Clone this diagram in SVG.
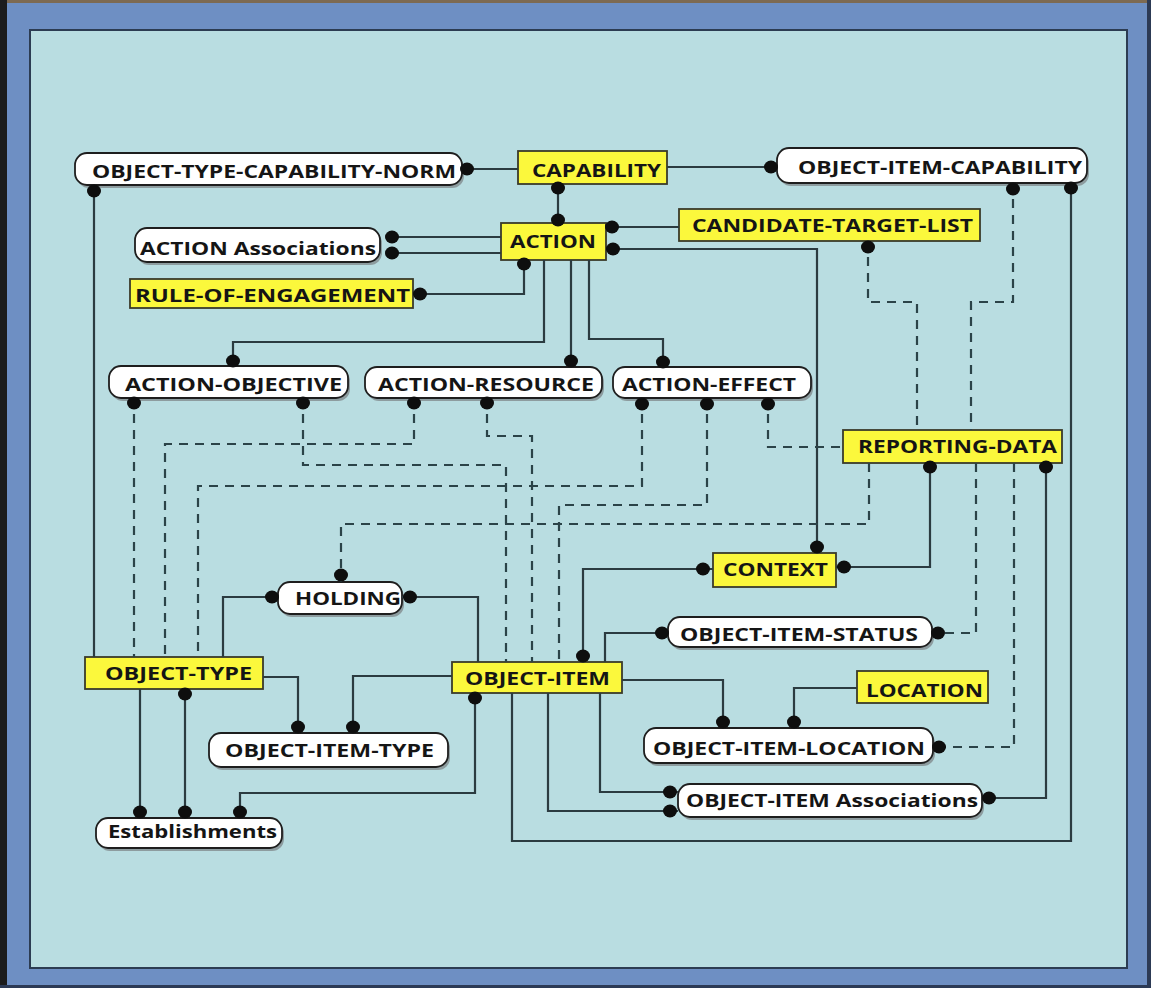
<svg xmlns="http://www.w3.org/2000/svg" width="1151" height="988" viewBox="0 0 1151 988">
<style>
.pill{fill:#ffffff;stroke:#1e1e1e;stroke-width:1.8}
.sh{fill:#8d9c9f}
.ybox{fill:#fbf83c;stroke:#3a3a2a;stroke-width:1.8}
.t{font-family:"Open Sans","Liberation Sans",sans-serif;font-weight:700;font-size:17px;fill:#151515}
.ln{fill:none;stroke:#2b3b40;stroke-width:2.2}
.ds{fill:none;stroke:#2b4348;stroke-width:2.2;stroke-dasharray:9 7}
.dot{fill:#0e0e0e}
</style>
<rect x="0" y="0" width="1151" height="988" fill="#6e8fc3"/>
<rect x="0" y="0" width="1151" height="3" fill="#7d6a52"/>
<rect x="0" y="0" width="7" height="988" fill="#1c1c1c"/>
<rect x="1147" y="0" width="4" height="988" fill="#2c3a55"/>
<rect x="0" y="985" width="1151" height="3" fill="#2c3a55"/>
<rect x="30" y="30" width="1097" height="938" fill="#b9dde1" stroke="#2c3c52" stroke-width="2"/>

<g id="n-otcn"><rect class="sh" x="77" y="156" width="387" height="32" rx="12"/><rect class="pill" x="75" y="153" width="387" height="32" rx="12"/><text class="t" x="92" y="178" textLength="364" lengthAdjust="spacingAndGlyphs">OBJECT-TYPE-CAPABILITY-NORM</text></g>
<g id="n-capability"><rect class="ybox" x="518" y="151" width="149" height="33"/><text class="t" x="532" y="177" textLength="129" lengthAdjust="spacingAndGlyphs">CAPABILITY</text></g>
<g id="n-oic"><rect class="sh" x="779" y="151" width="310" height="35" rx="12"/><rect class="pill" x="777" y="148" width="310" height="35" rx="12"/><text class="t" x="798" y="174" textLength="284" lengthAdjust="spacingAndGlyphs">OBJECT-ITEM-CAPABILITY</text></g>
<g id="n-action"><rect class="ybox" x="501" y="223" width="105" height="37"/><text class="t" x="510" y="248" textLength="86" lengthAdjust="spacingAndGlyphs">ACTION</text></g>
<g id="n-ctl"><rect class="ybox" x="679" y="209" width="301" height="32"/><text class="t" x="692" y="232" textLength="281" lengthAdjust="spacingAndGlyphs">CANDIDATE-TARGET-LIST</text></g>
<g id="n-action-assoc"><rect class="sh" x="137" y="231" width="245" height="34" rx="12"/><rect class="pill" x="135" y="228" width="245" height="34" rx="12"/><text class="t" x="140" y="255" textLength="236" lengthAdjust="spacingAndGlyphs">ACTION Associations</text></g>
<g id="n-roe"><rect class="ybox" x="130" y="279" width="283" height="29"/><text class="t" x="135" y="302" textLength="275" lengthAdjust="spacingAndGlyphs">RULE-OF-ENGAGEMENT</text></g>
<g id="n-aobj"><rect class="sh" x="111" y="369" width="239" height="32" rx="12"/><rect class="pill" x="109" y="366" width="239" height="32" rx="12"/><text class="t" x="125" y="391" textLength="217" lengthAdjust="spacingAndGlyphs">ACTION-OBJECTIVE</text></g>
<g id="n-ares"><rect class="sh" x="367" y="370" width="237" height="31" rx="12"/><rect class="pill" x="365" y="367" width="237" height="31" rx="12"/><text class="t" x="378" y="391" textLength="216" lengthAdjust="spacingAndGlyphs">ACTION-RESOURCE</text></g>
<g id="n-aeff"><rect class="sh" x="615" y="370" width="198" height="31" rx="12"/><rect class="pill" x="613" y="367" width="198" height="31" rx="12"/><text class="t" x="622" y="391" textLength="174" lengthAdjust="spacingAndGlyphs">ACTION-EFFECT</text></g>
<g id="n-rd"><rect class="ybox" x="843" y="430" width="219" height="33"/><text class="t" x="858" y="453" textLength="199" lengthAdjust="spacingAndGlyphs">REPORTING-DATA</text></g>
<g id="n-context"><rect class="ybox" x="713" y="553" width="123" height="34"/><text class="t" x="723" y="576" textLength="105" lengthAdjust="spacingAndGlyphs">CONTEXT</text></g>
<g id="n-holding"><rect class="sh" x="280" y="585" width="124" height="32" rx="12"/><rect class="pill" x="278" y="582" width="124" height="32" rx="12"/><text class="t" x="295" y="605" textLength="106" lengthAdjust="spacingAndGlyphs">HOLDING</text></g>
<g id="n-ois"><rect class="sh" x="670" y="620" width="264" height="30" rx="12"/><rect class="pill" x="668" y="617" width="264" height="30" rx="12"/><text class="t" x="680" y="641" textLength="238" lengthAdjust="spacingAndGlyphs">OBJECT-ITEM-STATUS</text></g>
<g id="n-otype"><rect class="ybox" x="85" y="657" width="178" height="32"/><text class="t" x="105" y="680" textLength="147" lengthAdjust="spacingAndGlyphs">OBJECT-TYPE</text></g>
<g id="n-oitem"><rect class="ybox" x="452" y="662" width="170" height="31"/><text class="t" x="465" y="685" textLength="145" lengthAdjust="spacingAndGlyphs">OBJECT-ITEM</text></g>
<g id="n-location"><rect class="ybox" x="857" y="671" width="131" height="32"/><text class="t" x="866" y="697" textLength="117" lengthAdjust="spacingAndGlyphs">LOCATION</text></g>
<g id="n-oit"><rect class="sh" x="211" y="736" width="239" height="34" rx="12"/><rect class="pill" x="209" y="733" width="239" height="34" rx="12"/><text class="t" x="225" y="757" textLength="209" lengthAdjust="spacingAndGlyphs">OBJECT-ITEM-TYPE</text></g>
<g id="n-oil"><rect class="sh" x="646" y="731" width="289" height="35" rx="12"/><rect class="pill" x="644" y="728" width="289" height="35" rx="12"/><text class="t" x="653" y="755" textLength="272" lengthAdjust="spacingAndGlyphs">OBJECT-ITEM-LOCATION</text></g>
<g id="n-oia"><rect class="sh" x="680" y="787" width="304" height="33" rx="12"/><rect class="pill" x="678" y="784" width="304" height="33" rx="12"/><text class="t" x="686" y="807" textLength="292" lengthAdjust="spacingAndGlyphs">OBJECT-ITEM Associations</text></g>
<g id="n-est"><rect class="sh" x="98" y="821" width="186" height="30" rx="12"/><rect class="pill" x="96" y="818" width="186" height="30" rx="12"/><text class="t" x="108" y="838" textLength="169" lengthAdjust="spacingAndGlyphs">Establishments</text></g>

<g id="connectors">
<path class="ln" d="M462,169 H518"/>
<path class="ln" d="M667,167 H777"/>
<path class="ln" d="M558,184 V223"/>
<path class="ln" d="M386,237 H501"/>
<path class="ln" d="M386,253 H501"/>
<path class="ln" d="M524,260 V294 H413"/>
<path class="ln" d="M606,227 H679"/>
<path class="ln" d="M606,249 H817 V553"/>
<path class="ln" d="M544,260 V342 H233 V366"/>
<path class="ln" d="M571,260 V367"/>
<path class="ln" d="M589,260 V339 H663 V367"/>
<path class="ln" d="M94,185 V657"/>
<path class="ln" d="M1071,183 V841 H512 V693"/>
<path class="ln" d="M930,463 V567 H836"/>
<path class="ln" d="M1046,463 V798 H982"/>
<path class="ln" d="M713,569 H583 V662"/>
<path class="ln" d="M668,633 H605 V662"/>
<path class="ln" d="M622,680 H723 V728"/>
<path class="ln" d="M857,688 H794 V728"/>
<path class="ln" d="M600,693 V792 H678"/>
<path class="ln" d="M548,693 V811 H678"/>
<path class="ln" d="M475,693 V793 H240 V818"/>
<path class="ln" d="M452,676 H353 V733"/>
<path class="ln" d="M263,677 H298 V733"/>
<path class="ln" d="M140,689 V818"/>
<path class="ln" d="M185,689 V818"/>
<path class="ln" d="M278,597 H223 V657"/>
<path class="ln" d="M402,597 H478 V662"/>

<path class="ds" d="M134,398 V657"/>
<path class="ds" d="M303,398 V465 H506 V662"/>
<path class="ds" d="M414,398 V444 H165 V657"/>
<path class="ds" d="M487,398 V436 H532 V662"/>
<path class="ds" d="M642,398 V486 H198 V657"/>
<path class="ds" d="M707,398 V505 H559 V662"/>
<path class="ds" d="M768,398 V447 H843"/>
<path class="ds" d="M869,463 V524 H341 V582"/>
<path class="ds" d="M868,241 V302 H917 V430"/>
<path class="ds" d="M1013,183 V302 H971 V430"/>
<path class="ds" d="M976,463 V633 H932"/>
<path class="ds" d="M1014,463 V747 H933"/>

<g class="dot">
<ellipse cx="467" cy="169" rx="7" ry="6.5"/>
<ellipse cx="771" cy="167" rx="7" ry="6.5"/>
<ellipse cx="558" cy="188" rx="7" ry="6.5"/>
<ellipse cx="558" cy="220" rx="7" ry="6.5"/>
<ellipse cx="392" cy="237" rx="7" ry="6.5"/>
<ellipse cx="392" cy="253" rx="7" ry="6.5"/>
<ellipse cx="524" cy="264" rx="7" ry="6.5"/>
<ellipse cx="420" cy="294" rx="7" ry="6.5"/>
<ellipse cx="612" cy="227" rx="7" ry="6.5"/>
<ellipse cx="613" cy="249" rx="7" ry="6.5"/>
<ellipse cx="817" cy="547" rx="7" ry="6.5"/>
<ellipse cx="233" cy="361" rx="7" ry="6.5"/>
<ellipse cx="571" cy="361" rx="7" ry="6.5"/>
<ellipse cx="663" cy="362" rx="7" ry="6.5"/>
<ellipse cx="94" cy="191" rx="7" ry="6.5"/>
<ellipse cx="1071" cy="188" rx="7" ry="6.5"/>
<ellipse cx="930" cy="467" rx="7" ry="6.5"/>
<ellipse cx="844" cy="567" rx="7" ry="6.5"/>
<ellipse cx="1046" cy="467" rx="7" ry="6.5"/>
<ellipse cx="989" cy="798" rx="7" ry="6.5"/>
<ellipse cx="703" cy="569" rx="7" ry="6.5"/>
<ellipse cx="583" cy="656" rx="7" ry="6.5"/>
<ellipse cx="662" cy="633" rx="7" ry="6.5"/>
<ellipse cx="723" cy="722" rx="7" ry="6.5"/>
<ellipse cx="794" cy="722" rx="7" ry="6.5"/>
<ellipse cx="670" cy="792" rx="7" ry="6.5"/>
<ellipse cx="670" cy="811" rx="7" ry="6.5"/>
<ellipse cx="475" cy="698" rx="7" ry="6.5"/>
<ellipse cx="240" cy="812" rx="7" ry="6.5"/>
<ellipse cx="353" cy="727" rx="7" ry="6.5"/>
<ellipse cx="298" cy="727" rx="7" ry="6.5"/>
<ellipse cx="140" cy="812" rx="7" ry="6.5"/>
<ellipse cx="185" cy="694" rx="7" ry="6.5"/>
<ellipse cx="185" cy="812" rx="7" ry="6.5"/>
<ellipse cx="272" cy="597" rx="7" ry="6.5"/>
<ellipse cx="410" cy="597" rx="7" ry="6.5"/>
<ellipse cx="134" cy="403" rx="7" ry="6.5"/>
<ellipse cx="303" cy="403" rx="7" ry="6.5"/>
<ellipse cx="414" cy="403" rx="7" ry="6.5"/>
<ellipse cx="487" cy="403" rx="7" ry="6.5"/>
<ellipse cx="642" cy="404" rx="7" ry="6.5"/>
<ellipse cx="707" cy="404" rx="7" ry="6.5"/>
<ellipse cx="768" cy="404" rx="7" ry="6.5"/>
<ellipse cx="341" cy="575" rx="7" ry="6.5"/>
<ellipse cx="868" cy="247" rx="7" ry="6.5"/>
<ellipse cx="1013" cy="189" rx="7" ry="6.5"/>
<ellipse cx="938" cy="633" rx="7" ry="6.5"/>
<ellipse cx="939" cy="747" rx="7" ry="6.5"/>
</g>
</g>
</svg>
